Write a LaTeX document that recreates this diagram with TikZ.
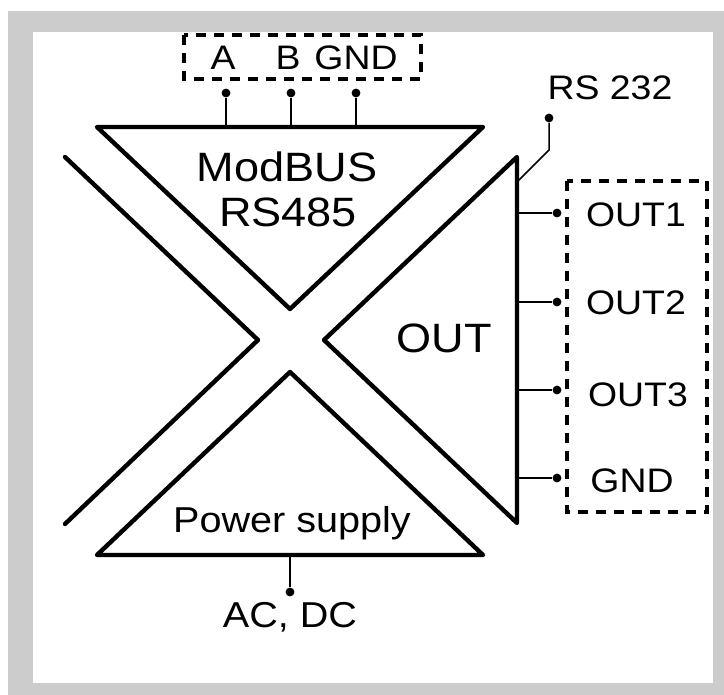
\documentclass[tikz,border=0pt]{standalone}
\usepackage{fontspec}
\setmainfont{Liberation Sans}[FakeStretch=1.1]
\usepackage{tikz}
\definecolor{framegray}{RGB}{204,204,204}
\tikzset{
  block/.style={line width=2.2pt, line join=round, line cap=round},
  pin/.style={line width=0.75pt},
  dot/.style={circle, fill=black, inner sep=0pt, minimum size=4.4pt},
  portbox/.style={line width=2.1pt, dash pattern=on 5pt off 4pt},
  bigtxt/.style={font=\fontsize{20.5}{24}\selectfont, inner sep=0pt, anchor=base},
  smalltxt/.style={font=\fontsize{17}{20}\selectfont, inner sep=0pt, anchor=base},
  midtxt/.style={font=\fontsize{18}{21}\selectfont, inner sep=0pt, anchor=base},
}

\begin{document}
\begin{tikzpicture}[x=0.5pt, y=-0.5pt]

  % ── Frame ─────────────────────────────────────────────────────────────
  \useasboundingbox (0,0) rectangle (724,695);
  \fill[framegray] (8,11) rectangle (724,695);
  \fill[white] (33,32) rectangle (713,683);

  % ── Blocks ────────────────────────────────────────────────────────────
  \draw[block] (97,127) -- (483,127) -- (290,309) -- cycle;
  \draw[block] (65,157) -- (258,340) -- (65,524);
  \draw[block] (517,157) -- (324,340) -- (517,523) -- cycle;
  \draw[block] (290,372) -- (483,555) -- (97,555) -- cycle;

  \node[bigtxt] (modbus) at (287,182) {ModBUS};
  \node[bigtxt] (rs485) at (288,227) {RS485};
  \node[bigtxt] (out) at (444,353) {OUT};
  \node[midtxt] (power) at (292,533) {Power supply};

  % ── RS485 terminals ───────────────────────────────────────────────────
  \draw[portbox] (184,35) rectangle (421,79);
  \node[smalltxt] (lblA) at (223,70) {A};
  \node[smalltxt] (lblB) at (288,70) {B};
  \node[smalltxt] (lblG) at (356,70) {GND};

  \coordinate (tA) at (226,127);
  \coordinate (tB) at (291,127);
  \coordinate (tG) at (356,127);
  \node[dot] (dA) at (226,93) {};
  \node[dot] (dB) at (291,93) {};
  \node[dot] (dG) at (356,93) {};
  \draw[pin] (tA) -- (dA);
  \draw[pin] (tB) -- (dB);
  \draw[pin] (tG) -- (dG);

  % ── RS 232 ────────────────────────────────────────────────────────────
  \node[smalltxt] (rs232) at (610,100) {RS 232};
  \coordinate (t232) at (517,182);
  \coordinate (k232) at (549,150);
  \node[dot] (d232) at (549,118) {};
  \draw[pin] (t232) -- (k232) -- (d232);

  % ── Outputs ───────────────────────────────────────────────────────────
  \draw[portbox] (567,181) rectangle (707,512);

  \coordinate (tO1) at (517,213);
  \coordinate (tO2) at (517,302);
  \coordinate (tO3) at (517,390);
  \coordinate (tOG) at (517,478);
  \node[dot] (dO1) at (557,213) {};
  \node[dot] (dO2) at (557,302) {};
  \node[dot] (dO3) at (557,390) {};
  \node[dot] (dOG) at (557,478) {};
  \draw[pin] (tO1) -- (dO1);
  \draw[pin] (tO2) -- (dO2);
  \draw[pin] (tO3) -- (dO3);
  \draw[pin] (tOG) -- (dOG);

  \node[smalltxt] (out1) at (636,227) {OUT1};
  \node[smalltxt] (out2) at (636,315) {OUT2};
  \node[smalltxt] (out3) at (638,407) {OUT3};
  \node[smalltxt] (outg) at (632,493) {GND};

  % ── Supply ────────────────────────────────────────────────────────────
  \coordinate (tP) at (290,555);
  \node[dot] (dP) at (290,592) {};
  \draw[pin] (tP) -- (dP);
  \node[midtxt] (acdc) at (290,628) {AC, DC};

\end{tikzpicture}
\end{document}
